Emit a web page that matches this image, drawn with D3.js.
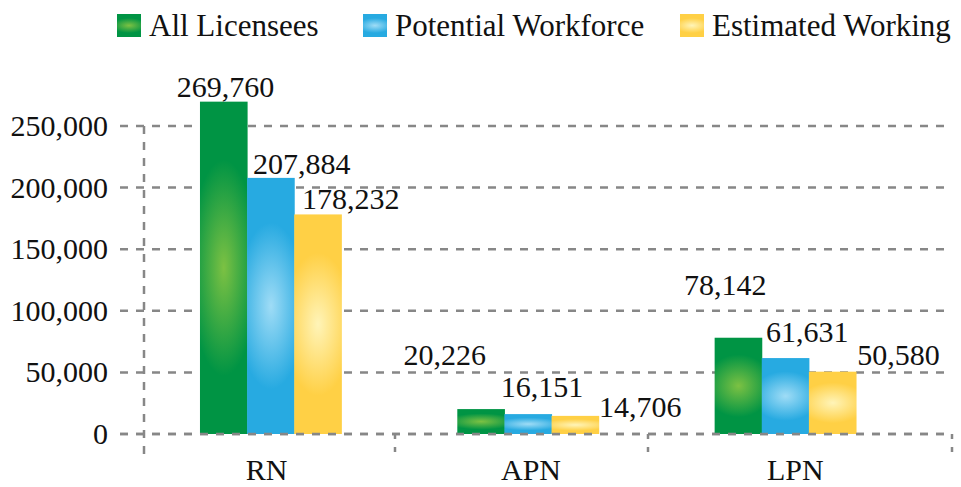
<!DOCTYPE html>
<html>
<head>
<meta charset="utf-8">
<script src="https://cdn.jsdelivr.net/npm/d3@7"></script>
<style>
  body { margin: 0; background: #fff; }
  text { font-family: "Liberation Serif", "DejaVu Serif", serif; fill: #111; }
</style>
</head>
<body>
<div id="chart"></div>
<script>
// data
var categories = ["RN", "APN", "LPN"];
var seriesNames = ["All Licensees", "Potential Workforce", "Estimated Working"];
var allLicensees = [269760, 20226, 78142];
var potentialWorkforce = [207884, 16151, 61631];
var estimatedWorking = [178232, 14706, 50580];
var yTicks = [0, 50000, 100000, 150000, 200000, 250000];

// label nudges (layout only), [category][series] -> [dx, dy] from bar top centre
var labelNudge = [
  [[2, -5], [31, -4], [33, -5]],
  [[-36, -44], [14, -17], [65, 1]],
  [[-13, -43], [22, -16], [66, -7]]
];

var svgWidth = 961;
var svgHeight = 487;

var svg = d3.select("#chart")
  .append("svg")
  .attr("width", svgWidth)
  .attr("height", svgHeight);

var defs = svg.append("defs");
var grads = [
  { id: "gGreen", dark: "#009444", light: "#7cc143" },
  { id: "gBlue", dark: "#27aae1", light: "#9fdcf6" },
  { id: "gYellow", dark: "#ffd045", light: "#fff4b8" }
];
grads.forEach(function(g) {
  var rg = defs.append("radialGradient")
    .attr("id", g.id)
    .attr("cx", 0.5).attr("cy", 0.5).attr("r", 0.5)
    .attr("gradientTransform", "translate(0.5,0.5) scale(2.2,1) translate(-0.5,-0.5)");
  rg.append("stop").attr("offset", "0%").attr("stop-color", g.light);
  rg.append("stop").attr("offset", "65%").attr("stop-color", g.dark);
  rg.append("stop").attr("offset", "100%").attr("stop-color", g.dark);
});

var table = categories.map(function(c, i) {
  return {
    cat: c,
    values: [allLicensees[i], potentialWorkforce[i], estimatedWorking[i]]
  };
});

// scales
var yScale = d3.scaleLinear().domain([0, 250000]).range([434, 126]);
var x0 = d3.scaleBand().domain(categories).range([142, 914]).paddingInner(0).paddingOuter(0);
var x1 = d3.scaleBand().domain(d3.range(seriesNames.length)).range([0, x0.bandwidth()]).paddingOuter(1.23);

var gridColor = "#878787";

// grid lines
svg.append("g").selectAll("line")
  .data(yTicks)
  .enter()
  .append("line")
  .attr("x1", 120)
  .attr("x2", 952)
  .attr("y1", d => yScale(d))
  .attr("y2", d => yScale(d))
  .attr("stroke", gridColor)
  .attr("stroke-width", 2.5)
  .attr("stroke-dasharray", "8,8");

// vertical axis line
svg.append("line")
  .attr("x1", 144).attr("x2", 144)
  .attr("y1", yScale(250000)).attr("y2", 455)
  .attr("stroke", gridColor)
  .attr("stroke-width", 2.5)
  .attr("stroke-dasharray", "8,8");

// category separators
var sepX = [395, 648, 952];
svg.append("g").selectAll("line")
  .data(sepX)
  .enter()
  .append("line")
  .attr("x1", d => d).attr("x2", d => d)
  .attr("y1", yScale(0)).attr("y2", 453)
  .attr("stroke", gridColor)
  .attr("stroke-width", 2.5)
  .attr("stroke-dasharray", "5,8");

// y tick labels
svg.append("g").selectAll("text")
  .data(yTicks)
  .enter()
  .append("text")
  .attr("x", 108)
  .attr("y", d => yScale(d))
  .attr("dy", "0.33em")
  .attr("text-anchor", "end")
  .style("font-size", "30px")
  .text(d => d3.format(",")(d));

// x category labels
svg.append("g").selectAll("text")
  .data(categories)
  .enter()
  .append("text")
  .attr("x", (d, i) => x0(d) + x0.bandwidth() / 2 + [-4, 3, 10][i])
  .attr("y", 480)
  .attr("text-anchor", "middle")
  .style("font-size", "30px")
  .text(d => d);

// bars
var groups = svg.append("g").selectAll("g")
  .data(table)
  .enter()
  .append("g")
  .attr("transform", d => `translate(${x0(d.cat)},0)`);

groups.selectAll("rect")
  .data(d => d.values.map((v, j) => ({ v: v, j: j })))
  .enter()
  .append("rect")
  .attr("x", d => x1(d.j))
  .attr("width", x1.bandwidth() + 0.5)
  .attr("y", d => yScale(d.v))
  .attr("height", d => yScale(0) - yScale(d.v))
  .attr("fill", d => `url(#${grads[d.j].id})`);

// zero line drawn again over the bar bottoms
svg.append("line")
  .attr("x1", 120).attr("x2", 952)
  .attr("y1", yScale(0)).attr("y2", yScale(0))
  .attr("stroke", gridColor)
  .attr("stroke-width", 2.5)
  .attr("stroke-dasharray", "8,8");

// value labels
groups.each(function(d, i) {
  d3.select(this).selectAll("text.val")
    .data(d.values.map((v, j) => ({ v: v, j: j })))
    .enter()
    .append("text")
    .attr("class", "val")
    .attr("x", e => x1(e.j) + x1.bandwidth() / 2 + labelNudge[i][e.j][0])
    .attr("y", e => yScale(e.v) + labelNudge[i][e.j][1])
    .attr("text-anchor", "middle")
    .style("font-size", "30px")
    .text(e => d3.format(",")(e.v));
});

// legend
var legendX = [117, 363, 680];
var legend = svg.append("g").selectAll("g")
  .data(seriesNames)
  .enter()
  .append("g")
  .attr("transform", (d, i) => `translate(${legendX[i]},14)`);

legend.append("rect")
  .attr("width", 24)
  .attr("height", 23)
  .attr("fill", (d, i) => `url(#${grads[i].id})`);

legend.append("text")
  .attr("x", 32)
  .attr("y", 22)
  .style("font-size", "31px")
  .text(d => d);
</script>
</body>
</html>
